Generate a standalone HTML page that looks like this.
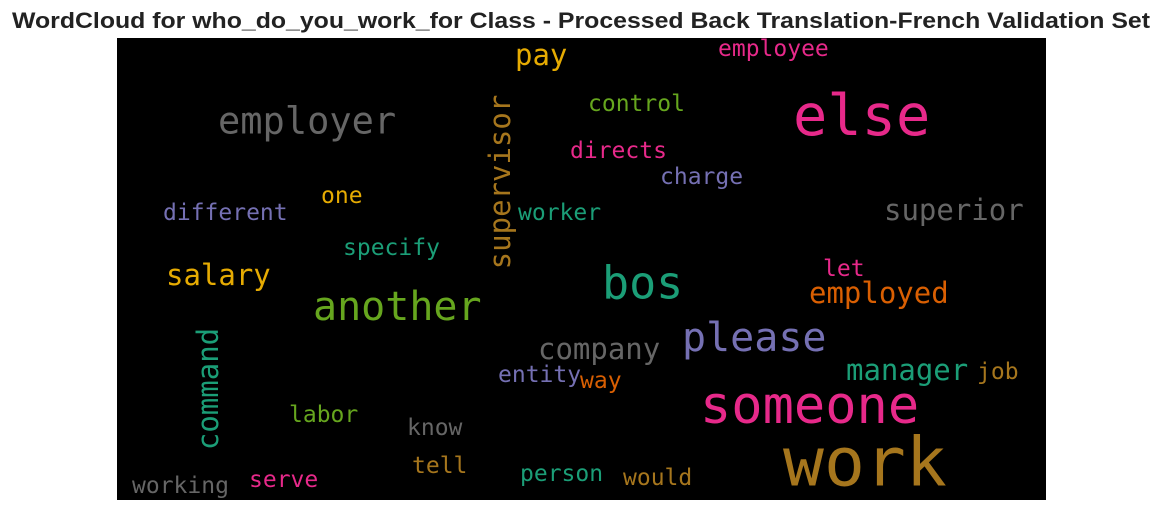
<!DOCTYPE html>
<html><head><meta charset="utf-8">
<style>
html,body{margin:0;padding:0;background:#fff;}
svg{display:block;}
</style></head>
<body>
<svg id="chart" width="1162" height="511" xmlns="http://www.w3.org/2000/svg">
<text x="581" y="28" text-anchor="middle" font-family="Liberation Sans, sans-serif" font-weight="bold" font-size="22" textLength="1138" lengthAdjust="spacingAndGlyphs" fill="#222">WordCloud for who_do_you_work_for Class - Processed Back Translation-French Validation Set</text>
<rect x="117" y="38" width="929" height="462" fill="#000"/>
<g id="words"></g>
</svg>
<script>
const words = ["employer","else","work","someone","another","please","bos","company","superior","salary","employed","manager","pay","supervisor","command","control","directs","charge","different","one","worker","specify","let","entity","way","job","labor","know","tell","person","would","working","serve","employee"];
const sizes = [37,57,68,52,40,40,45,29,29,29,29,29,29,29,29,23,23,23,23,23,23,23,23,23,23,23,23,23,23,23,23,23,23,23];
const colors = ["#666666","#e7298a","#a6761d","#e7298a","#66a61e","#7570b3","#1b9e77","#666666","#666666","#e6ab02","#d95f02","#1b9e77","#e6ab02","#a6761d","#1b9e77","#66a61e","#e7298a","#7570b3","#7570b3","#e6ab02","#1b9e77","#1b9e77","#e7298a","#7570b3","#d95f02","#a6761d","#66a61e","#666666","#a6761d","#1b9e77","#a6761d","#666666","#e7298a","#e7298a"];
const layoutX = [218,793,783,700,313,682,602,538,884,166,809,846,515,500,208,588,570,660,163,321,518,343,823,498,580,977,289,407,412,520,623,132,249,718];
const layoutY = [121,116,463,406,307,338,283,349,210,275,293,370,55,182,389,104,151,177,213,196,213,248,269,375,381,372,415,428,466,474,478,486,480,49];
const vertical = [0,0,0,0,0,0,0,0,0,0,0,0,0,1,1,0,0,0,0,0,0,0,0,0,0,0,0,0,0,0,0,0,0,0];
const g = document.getElementById('words');
const NS = "http://www.w3.org/2000/svg";
words.forEach((w,i)=>{
  const t = document.createElementNS(NS,'text');
  t.textContent = w;
  t.setAttribute('font-family','DejaVu Sans Mono, monospace');
  t.setAttribute('font-size',sizes[i]);
  t.setAttribute('fill',colors[i]);
  t.setAttribute('dominant-baseline','central');
  if (vertical[i]) {
    t.setAttribute('x',layoutX[i]);
    t.setAttribute('y',layoutY[i]);
    t.setAttribute('text-anchor','middle');
    t.setAttribute('transform','rotate(-90 '+layoutX[i]+' '+layoutY[i]+')');
  } else {
    t.setAttribute('x',layoutX[i]);
    t.setAttribute('y',layoutY[i]);
  }
  
  
  g.appendChild(t);
});
</script>
</body></html>
